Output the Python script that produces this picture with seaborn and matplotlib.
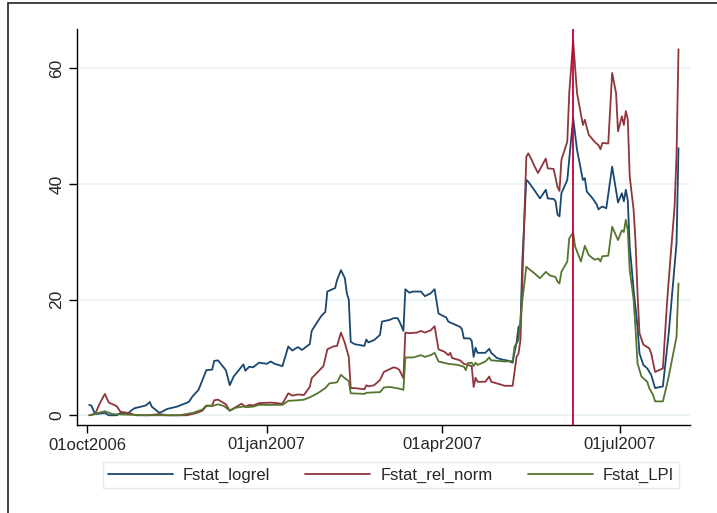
import numpy as np
import pandas as pd
import matplotlib
matplotlib.use("Agg")
import matplotlib.pyplot as plt
import matplotlib.patches as mpatches
import seaborn as sns

# ---- data (day offsets from 2006-10-01) ----
start_date = "2006-10-01"

days_logrel = [1, 2, 4, 9, 11, 15, 17, 21, 24, 30, 32, 33, 37, 41, 46, 52, 54, 57, 61, 64, 65, 67, 71, 73, 75,
               80, 81, 83, 85, 88, 92, 94, 96, 100, 103, 105, 108, 110, 114, 115, 118, 120, 122, 123, 127, 128,
               130, 132, 133, 134, 135, 137, 142, 143, 144, 147, 150, 151, 155, 157, 159, 160, 162, 163, 165,
               167, 171, 173, 176, 178, 180, 184, 185, 187, 191, 192, 193, 196, 197, 198, 199, 200, 204, 206,
               207, 210, 213, 215, 218, 219, 220, 221, 222, 223, 225, 226, 229, 232, 235, 236, 239, 240, 241,
               242, 243, 246, 249, 251, 254, 255, 256, 259, 261, 262, 263, 264, 266, 269, 272, 274, 275, 276,
               277, 278, 280, 282, 283, 285, 287, 289, 291, 295, 298, 302, 303]
fstat_logrel = [1.8, 1.7, 0.2, 0.4, 0.0, 0.0, 0.4, 0.4, 1.2, 1.7, 2.3, 1.5, 0.4, 1.1, 1.5, 2.3, 3.3, 4.4, 7.8,
                7.9, 9.4, 9.5, 7.8, 5.2, 6.7, 8.8, 7.7, 8.4, 8.3, 9.1, 8.9, 9.3, 8.9, 8.5, 11.9, 11.2, 11.8,
                11.3, 12.3, 14.6, 16.2, 17.2, 17.9, 21.4, 22.0, 23.4, 25.1, 23.7, 21.1, 20.0, 12.7, 12.3, 12.0,
                13.1, 12.6, 13.0, 13.9, 16.2, 16.5, 16.8, 16.8, 16.2, 14.6, 21.8, 21.2, 21.4, 21.4, 20.6, 21.1,
                21.8, 17.6, 16.9, 16.2, 15.9, 15.3, 14.9, 13.3, 13.3, 12.9, 10.1, 11.7, 10.8, 10.8, 11.5, 10.8,
                9.9, 9.6, 9.5, 9.1, 11.0, 12.5, 15.3, 15.6, 26.9, 40.7, 40.4, 39.0, 37.5, 39.0, 37.5, 37.4,
                37.0, 34.7, 34.4, 38.4, 40.7, 51.4, 45.9, 40.7, 41.0, 38.7, 37.5, 36.5, 35.6, 35.9, 36.1, 35.8,
                43.0, 36.8, 38.4, 37.0, 39.0, 37.2, 29.2, 21.7, 15.3, 10.7, 8.7, 8.1, 7.0, 4.7, 5.0, 14.2,
                29.8, 46.2]

days_rel_norm = [1, 4, 6, 9, 11, 15, 17, 21, 25, 31, 37, 41, 51, 56, 59, 61, 64, 65, 67, 71, 73, 75, 79, 81,
                 83, 85, 88, 94, 100, 103, 105, 108, 111, 114, 115, 119, 121, 123, 126, 128, 130, 132, 134,
                 135, 137, 142, 143, 144, 147, 150, 152, 157, 159, 160, 162, 163, 165, 169, 171, 173, 176, 178,
                 180, 183, 185, 186, 187, 191, 193, 197, 198, 199, 200, 204, 206, 207, 211, 214, 218, 220, 221,
                 222, 225, 226, 228, 229, 231, 235, 236, 239, 241, 242, 243, 246, 247, 249, 251, 254, 255, 257,
                 260, 262, 263, 264, 267, 269, 271, 272, 274, 275, 276, 277, 278, 280, 281, 282, 283, 285, 288,
                 289, 291, 295, 297, 298, 301, 302, 303]
fstat_rel_norm = [0.0, 0.2, 1.8, 3.7, 2.2, 1.6, 0.6, 0.4, 0.0, 0.0, 0.2, 0.0, 0.0, 0.4, 0.8, 1.6, 1.7, 2.6,
                  2.7, 1.9, 0.8, 1.2, 2.0, 1.5, 1.8, 1.7, 2.1, 2.2, 2.0, 3.8, 3.4, 3.6, 3.5, 4.9, 6.4, 7.8,
                  8.5, 11.4, 11.9, 12.0, 14.3, 12.5, 10.1, 4.7, 4.7, 4.5, 5.2, 5.0, 5.2, 6.1, 7.5, 8.3, 8.1,
                  7.8, 6.4, 14.3, 14.2, 14.3, 14.6, 14.3, 14.7, 15.4, 11.4, 11.0, 10.4, 10.8, 9.9, 9.5, 8.9,
                  8.5, 4.9, 6.5, 5.8, 5.8, 6.7, 5.8, 5.4, 5.1, 5.1, 10.1, 10.7, 13.0, 44.7, 45.3, 44.0, 43.2,
                  41.9, 44.4, 42.7, 42.6, 39.5, 38.8, 44.2, 47.3, 55.7, 64.8, 55.7, 50.2, 51.1, 48.5, 47.3,
                  46.7, 46.0, 47.1, 47.0, 59.2, 55.7, 49.1, 51.7, 50.2, 52.6, 51.2, 41.3, 35.5, 29.8, 21.1,
                  14.2, 12.2, 11.6, 10.7, 7.5, 8.1, 18.8, 23.4, 36.1, 45.0, 63.3]

days_lpi = [1, 9, 13, 21, 31, 47, 54, 59, 61, 64, 67, 70, 73, 76, 80, 82, 85, 88, 100, 103, 108, 111, 114,
            118, 122, 124, 128, 130, 132, 134, 135, 142, 143, 150, 152, 155, 160, 162, 163, 167, 171, 173,
            176, 178, 180, 185, 190, 193, 194, 195, 197, 198, 199, 200, 204, 206, 207, 211, 214, 218, 219,
            221, 223, 225, 226, 229, 232, 235, 237, 240, 241, 242, 243, 246, 247, 249, 250, 253, 255, 257,
            260, 262, 263, 264, 267, 269, 272, 274, 275, 276, 277, 278, 280, 281, 282, 284, 287, 288, 290,
            291, 295, 296, 298, 302, 303]
fstat_lpi = [0.0, 0.7, 0.2, 0.1, 0.0, 0.0, 0.4, 1.0, 1.7, 1.6, 1.9, 1.6, 0.8, 1.3, 1.5, 1.4, 1.5, 1.8, 1.8,
             2.5, 2.6, 2.7, 3.1, 3.8, 4.7, 5.5, 5.7, 7.0, 6.4, 5.9, 3.8, 3.7, 3.9, 4.0, 4.8, 4.9, 4.6, 4.4,
             10.0, 10.0, 10.4, 10.1, 10.4, 10.8, 9.3, 8.9, 8.7, 8.4, 7.8, 9.0, 9.1, 8.5, 9.1, 8.7, 9.3, 10.0,
             9.5, 9.4, 9.3, 9.4, 11.9, 13.0, 20.0, 25.7, 25.4, 24.6, 23.7, 24.8, 24.2, 23.9, 23.1, 22.8, 24.8,
             26.6, 30.6, 31.6, 29.2, 26.6, 29.3, 27.7, 26.9, 27.1, 26.6, 27.5, 27.6, 32.6, 30.3, 32.0, 31.7,
             33.8, 32.0, 25.1, 20.0, 14.8, 9.0, 6.7, 5.8, 4.7, 3.5, 2.4, 2.4, 3.8, 6.7, 13.6, 22.8]

series_names = ["Fstat_logrel", "Fstat_rel_norm", "Fstat_LPI"]
series_colors = ["#1A476F", "#90353B", "#55752F"]
vline_date = "2007-06-07"
xtick_dates = ["2006-10-01", "2007-01-01", "2007-04-01", "2007-07-01"]
yticks = [0, 20, 40, 60]

# ---- build long-form table ----
t0 = pd.Timestamp(start_date)
frames = []
for name, d, v in zip(series_names,
                      [days_logrel, days_rel_norm, days_lpi],
                      [fstat_logrel, fstat_rel_norm, fstat_lpi]):
    frames.append(pd.DataFrame({"date": t0 + pd.to_timedelta(d, unit="D"),
                                "value": v, "series": name}))
df = pd.concat(frames, ignore_index=True)

sns.set_theme(style="white")
plt.rcParams["font.family"] = ["Liberation Sans", "DejaVu Sans"]

fig = plt.figure(figsize=(7.17, 5.13), dpi=100)
fig.patch.set_facecolor("white")
ax = fig.add_axes([77 / 717, 1 - 425 / 513, (690 - 77) / 717, (425 - 29) / 513])

# outer frame (graph region border), extends past right/bottom edges
top_y = 1 - 3 / 513
fig.patches.append(mpatches.Rectangle((8 / 717, -0.2), 1.5, top_y + 0.2,
                                      transform=fig.transFigure, fill=False,
                                      edgecolor="#222222", linewidth=1.2, zorder=0))

for y in yticks:
    ax.axhline(y, color="#EAF2F3", linewidth=1.2, zorder=0)

sns.lineplot(data=df, x="date", y="value", hue="series", hue_order=series_names,
             palette=dict(zip(series_names, series_colors)), estimator=None,
             linewidth=1.3, ax=ax, legend=False)

ax.axvline(pd.Timestamp(vline_date), color="#C8003A", linewidth=1.3, zorder=5)

ax.set_xlim(t0 - pd.Timedelta(days=5.3), t0 + pd.Timedelta(days=308.9))
ax.set_ylim(-1.68, 66.8)

xt = [pd.Timestamp(s) for s in xtick_dates]
ax.set_xticks(xt)
ax.set_xticklabels([d.strftime("%d%b%Y").lower() for d in xt], fontsize=12)
ax.set_yticks(yticks)
ax.set_yticklabels([str(v) for v in yticks], fontsize=12.5, rotation=90, va="center")
ax.tick_params(axis="both", which="major", direction="out", length=6, width=1,
               color="black", bottom=True, left=True, pad=3)
ax.set_xlabel("")
ax.set_ylabel("")
for s in ["top", "right"]:
    ax.spines[s].set_visible(False)
for s in ["left", "bottom"]:
    ax.spines[s].set_color("black")
    ax.spines[s].set_linewidth(1.0)
ax.grid(False)

handles = [plt.Line2D([], [], color=c, linewidth=1.3) for c in series_colors]
leg = fig.legend(handles, series_names, loc="center", bbox_to_anchor=(391 / 717, 1 - 475 / 513),
                 ncol=3, fontsize=12, frameon=True, fancybox=False, handlelength=3.9,
                 handletextpad=0.6, columnspacing=2.1, borderpad=0.3)
leg.get_frame().set_edgecolor("#DCE6EA")
leg.get_frame().set_linewidth(1.0)

fig.savefig("out.png", dpi=100)
